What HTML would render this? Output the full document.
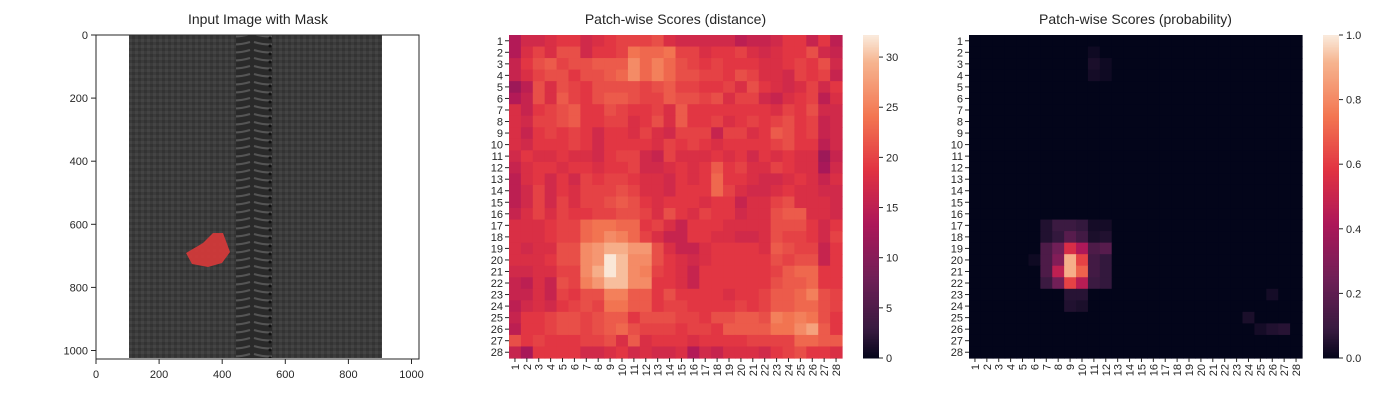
<!DOCTYPE html>
<html><head><meta charset="utf-8"><style>
body{margin:0;background:#fff;}
svg text{font-family:"Liberation Sans",sans-serif;fill:#262626;}
</style></head><body>
<svg id="c" width="1400" height="400" xmlns="http://www.w3.org/2000/svg">
<defs>
<pattern id="weave" width="6" height="6" patternUnits="userSpaceOnUse">
<rect width="6" height="6" fill="#3b3b3b"/><rect width="3" height="3" fill="#333"/><rect x="3" y="3" width="3" height="3" fill="#444"/>
</pattern>
<pattern id="teeth" width="36" height="8" patternUnits="userSpaceOnUse">
<rect width="36" height="8" fill="#2a2a2a"/><path d="M2 2 Q18 7 34 2" stroke="#555" stroke-width="2" fill="none"/><circle cx="18" cy="6" r="1.5" fill="#111"/>
</pattern>
</defs>
<g id="p1">
<text x="258" y="24" font-size="14" text-anchor="middle">Input Image with Mask</text>
<rect x="96" y="35" width="323" height="323" fill="#fff"/>
<rect x="129" y="35" width="253" height="323" fill="url(#weave)"/>
<rect x="236" y="35" width="36" height="323" fill="url(#teeth)"/>
<polygon fill="#d63a3a" fill-opacity="0.92" points="186,253 203,243 213,233 223,233 230,252 222,263 208,267 192,264"/>
<rect x="96" y="35" width="323" height="324" fill="none" stroke="#262626" stroke-width="1"/>
<g id="p1ticks"></g>
</g>
<g id="h1"></g>
<g id="h2"></g>
</svg>
<script>
const imgTicks=[0,200,400,600,800,1000];
const distTicks=[0,5,10,15,20,25,30];
const probTicks=[0,0.2,0.4,0.6,0.8,1.0];
const distVmax=32.2;
const probVmax=1.0;
const distance=[
[14,17,17,18,19,19,17,18,19,20,20,20,21,18,17,17,17,17,17,15,16,16,17,19,19,16,19,15],
[14,18,20,18,21,21,17,19,19,20,24,23,23,24,20,20,18,19,19,20,18,17,18,19,19,21,17,16],
[16,19,21,22,20,21,21,22,22,22,26,23,25,23,21,20,19,20,19,19,19,18,18,19,20,19,21,17],
[16,18,20,21,21,19,21,21,22,23,26,23,25,23,21,21,20,20,19,21,20,18,18,17,20,19,20,16],
[12,15,21,18,21,20,19,21,21,21,21,20,21,22,20,20,19,19,20,18,21,19,18,17,18,20,17,19],
[14,16,21,18,22,20,19,21,22,22,21,20,20,22,21,21,20,21,18,20,20,17,16,18,19,20,15,18],
[18,16,19,20,21,22,19,19,21,20,19,19,20,18,22,19,19,19,19,19,19,19,18,20,19,21,17,17],
[18,17,20,20,21,22,19,19,20,20,18,19,21,18,22,19,19,20,18,19,20,19,20,21,19,20,16,17],
[18,16,19,20,19,20,19,17,19,19,18,20,18,17,20,20,20,16,20,20,18,19,22,21,19,20,16,17],
[18,17,19,19,19,20,19,17,19,19,19,19,18,20,19,20,19,18,19,19,19,19,20,21,19,19,15,17],
[17,19,18,18,19,18,18,17,19,20,20,17,16,20,18,18,18,19,18,19,17,19,18,19,18,18,12,16],
[16,18,19,19,18,19,19,18,19,19,20,17,17,18,19,18,19,22,19,20,18,18,20,19,18,18,13,17],
[15,18,19,17,19,17,20,19,20,20,19,18,18,17,19,18,19,23,19,19,18,17,17,18,19,18,16,18],
[15,17,20,17,19,18,20,20,20,21,20,18,18,17,19,19,19,23,20,18,17,17,18,19,18,18,17,17],
[15,17,20,17,20,18,20,20,21,22,21,19,18,19,19,19,18,19,19,16,18,18,20,21,18,18,18,17],
[16,18,20,18,20,19,19,20,20,21,21,20,18,21,19,18,20,19,19,17,18,18,21,22,22,18,18,17],
[18,18,18,19,20,20,23,24,24,23,23,19,20,18,16,19,19,19,18,18,18,18,21,21,21,19,17,19],
[18,18,18,19,20,20,23,24,26,25,23,20,18,16,16,19,19,18,18,17,17,18,21,20,20,19,17,20],
[18,17,18,18,21,21,26,27,29,29,27,27,21,18,16,16,18,19,19,19,19,18,22,21,20,20,16,19],
[18,18,18,19,21,21,26,27,32,30,26,26,21,19,18,17,18,19,19,19,19,19,21,20,21,21,16,19],
[17,17,18,18,20,20,26,29,32,30,26,25,20,19,18,16,19,19,19,19,19,19,20,22,23,23,19,19],
[16,15,18,16,21,20,25,27,30,30,26,26,19,19,18,16,19,19,19,19,19,19,21,22,22,23,19,19],
[16,16,18,16,20,19,21,21,25,25,22,22,19,21,19,19,19,19,18,19,19,20,22,22,23,25,21,20],
[15,17,18,17,19,20,21,20,24,24,22,22,19,20,20,19,19,19,19,20,19,20,22,22,23,23,21,20],
[16,19,19,20,21,21,20,21,22,22,19,21,21,21,20,20,19,21,21,22,22,21,25,24,25,24,21,19],
[15,19,19,20,21,21,20,21,22,23,21,20,20,20,19,20,20,19,22,22,22,22,24,24,26,28,22,19],
[21,19,20,19,19,19,20,20,21,18,22,18,19,19,19,18,19,19,19,19,20,20,20,20,23,23,22,22],
[16,13,19,19,19,19,17,17,18,19,17,18,17,17,18,14,17,16,18,18,18,17,19,20,21,19,19,18]];
const Z=[0,0,0,0,0,0,0,0,0,0,0,0,0,0,0,0,0,0,0,0,0,0,0,0,0,0,0,0];
const probability=[
Z,
[0,0,0,0,0,0,0,0,0,0,0.02,0,0,0,0,0,0,0,0,0,0,0,0,0,0,0,0,0],
[0,0,0,0,0,0,0,0,0,0,0.04,0.02,0,0,0,0,0,0,0,0,0,0,0,0,0,0,0,0],
[0,0,0,0,0,0,0,0,0,0,0.03,0.02,0,0,0,0,0,0,0,0,0,0,0,0,0,0,0,0],
Z,Z,Z,Z,Z,Z,Z,Z,Z,Z,Z,Z,
[0,0,0,0,0,0,0.05,0.1,0.1,0.08,0.03,0.03,0,0,0,0,0,0,0,0,0,0,0,0,0,0,0,0],
[0,0,0,0,0,0,0.05,0.08,0.18,0.12,0.04,0.05,0,0,0,0,0,0,0,0,0,0,0,0,0,0,0,0],
[0,0,0,0,0,0,0.15,0.25,0.55,0.42,0.15,0.18,0,0,0,0,0,0,0,0,0,0,0,0,0,0,0,0],
[0,0,0,0,0,0.02,0.15,0.3,0.9,0.62,0.12,0.08,0,0,0,0,0,0,0,0,0,0,0,0,0,0,0,0],
[0,0,0,0,0,0,0.15,0.47,0.9,0.7,0.12,0.08,0,0,0,0,0,0,0,0,0,0,0,0,0,0,0,0],
[0,0,0,0,0,0,0.1,0.25,0.62,0.45,0.1,0.08,0,0,0,0,0,0,0,0,0,0,0,0,0,0,0,0],
[0,0,0,0,0,0,0,0,0.06,0.06,0,0,0,0,0,0,0,0,0,0,0,0,0,0,0,0.03,0,0],
[0,0,0,0,0,0,0,0,0.05,0.04,0,0,0,0,0,0,0,0,0,0,0,0,0,0,0,0,0,0],
[0,0,0,0,0,0,0,0,0,0,0,0,0,0,0,0,0,0,0,0,0,0,0,0.04,0,0,0,0],
[0,0,0,0,0,0,0,0,0,0,0,0,0,0,0,0,0,0,0,0,0,0,0,0,0.03,0.05,0.06,0],
Z,Z];
const rocket=[[0,[3,5,26]],[1/12,[53,25,62]],[3/12,[112,31,87]],[5/12,[173,23,89]],[7/12,[225,51,66]],[9/12,[243,118,81]],[11/12,[246,180,143]],[1,[250,235,221]]];
function cmap(t){t=Math.max(0,Math.min(1,t));for(let i=1;i<rocket.length;i++){if(t<=rocket[i][0]){const a=rocket[i-1],b=rocket[i];const f=(t-a[0])/(b[0]-a[0]);return 'rgb('+a[1].map((v,k)=>Math.round(v+(b[1][k]-v)*f)).join(',')+')';}}return 'rgb(250,235,221)';}
const NS='http://www.w3.org/2000/svg';
function mk(tag,attrs,parent){const e=document.createElementNS(NS,tag);for(const k in attrs)e.setAttribute(k,attrs[k]);parent.appendChild(e);return e;}
// panel 1 ticks
const p1=document.getElementById('p1ticks');
const imgX=v=>96+v*0.3155, imgY=v=>35+v*0.3155;
imgTicks.forEach(v=>{
 mk('line',{x1:imgX(v),x2:imgX(v),y1:359,y2:364,stroke:'#262626'},p1);
 const t=mk('text',{x:imgX(v),y:378,'font-size':11,'text-anchor':'middle'},p1);t.textContent=v;
 
 
 mk('line',{x1:91,x2:96,y1:imgY(v),y2:imgY(v),stroke:'#262626'},p1);
 const u=mk('text',{x:88,y:imgY(v)+4,'font-size':11,'text-anchor':'end'},p1);u.textContent=v;
 
 
});
function heat(gid,x0,title,data,vmax,ticks,fmt){
 const g=document.getElementById(gid);
 const W=333,H=323,n=28,cw=W/n,ch=H/n;
 const xs=c=>x0+c*cw, ys=r=>35+r*ch;
 const tt=mk('text',{x:x0+W/2,y:24,'font-size':14,'text-anchor':'middle'},g);tt.textContent=title;
 
 
 data.forEach((row,r)=>row.forEach((v,c)=>{
  const rc=mk('rect',{x:xs(c),y:ys(r),width:cw+0.6,height:ch+0.6,fill:cmap(v/vmax)},g);
  
  
 }));
 for(let i=0;i<n;i++){
  const cx=xs(i)+cw/2, cy=ys(i)+ch/2;
  mk('line',{x1:cx,x2:cx,y1:358,y2:362,stroke:'#262626'},g);
  const t=mk('text',{transform:'translate('+(cx+4)+',364) rotate(-90)','font-size':11,'text-anchor':'end'},g);t.textContent=i+1;
  
  
  mk('line',{x1:x0-4,x2:x0,y1:cy,y2:cy,stroke:'#262626'},g);
  const u=mk('text',{x:x0-6,y:cy+4,'font-size':11,'text-anchor':'end'},g);u.textContent=i+1;
  
  
 }
 const bx=x0+W+21,bw=16;
 for(let k=0;k<200;k++){
  const rc=mk('rect',{x:bx,y:358-(k+1)*H/200,width:bw,height:H/200+0.5,fill:cmap((k+0.5)/200)},g);
  
  
 }
 ticks.forEach(v=>{const y=358-v/vmax*H;
  mk('line',{x1:bx+bw,x2:bx+bw+4,y1:y,y2:y,stroke:'#262626'},g);
  const t=mk('text',{x:bx+bw+7,y:y+4,'font-size':11},g);t.textContent=fmt(v);
  
  
 });
}
heat('h1',509,'Patch-wise Scores (distance)',distance,distVmax,distTicks,v=>String(v));
heat('h2',969,'Patch-wise Scores (probability)',probability,probVmax,probTicks,v=>v.toFixed(1));
</script>
</body></html>
